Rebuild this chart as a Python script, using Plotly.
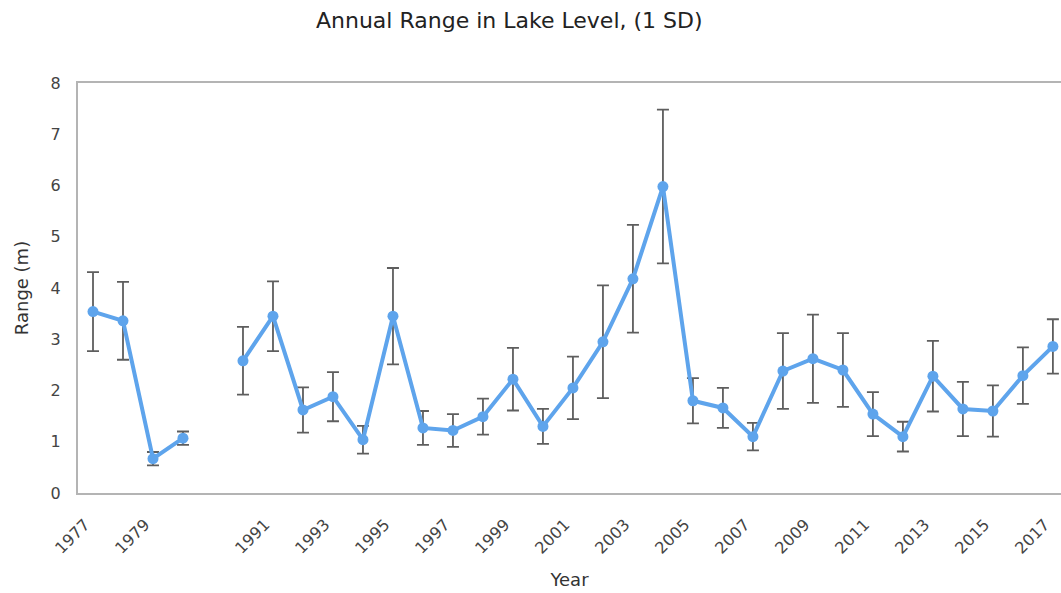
import plotly.graph_objects as go

# Years shown on the category axis; the blank entry separates the two record periods
years = ["1977", "1978", "1979", "1980", " ",
         "1990", "1991", "1992", "1993", "1994", "1995", "1996", "1997", "1998",
         "1999", "2000", "2001", "2002", "2003", "2004", "2005", "2006", "2007",
         "2008", "2009", "2010", "2011", "2012", "2013", "2014", "2015", "2016", "2017"]

# Annual range in lake level (m)
range_m = [3.54, 3.36, 0.67, 1.07, None,
           2.58, 3.45, 1.62, 1.88, 1.04, 3.45, 1.27, 1.22, 1.49,
           2.22, 1.30, 2.05, 2.95, 4.18, 5.98, 1.80, 1.66, 1.10,
           2.38, 2.62, 2.40, 1.54, 1.10, 2.28, 1.64, 1.60, 2.29, 2.86]

# One standard deviation
sd_m = [0.77, 0.76, 0.13, 0.13, None,
        0.66, 0.68, 0.44, 0.48, 0.27, 0.94, 0.33, 0.32, 0.35,
        0.61, 0.34, 0.61, 1.10, 1.05, 1.50, 0.44, 0.39, 0.27,
        0.74, 0.86, 0.72, 0.43, 0.29, 0.69, 0.53, 0.50, 0.55, 0.53]

# Every other year is labelled
tick_years = years[::2]
tick_text = [y.strip() for y in tick_years]

line_blue = "#5ea4ec"
axis_grey = "#b4b4b4"
text_grey = "#444444"
font_family = "DejaVu Sans"

fig = go.Figure(
    go.Scatter(
        x=years,
        y=range_m,
        mode="lines+markers",
        connectgaps=False,
        line=dict(color=line_blue, width=4),
        marker=dict(color=line_blue, size=11),
        error_y=dict(type="data", array=sd_m, visible=True,
                     color="#5e5e5e", thickness=1.8, width=6),
        showlegend=False,
    )
)

fig.update_layout(
    width=1061,
    height=593,
    paper_bgcolor="white",
    plot_bgcolor="white",
    margin=dict(l=78, r=0, t=83, b=100),
    title=dict(text="Annual Range in Lake Level, (1 SD)",
               x=0.48, xanchor="center", y=0.965, yanchor="middle",
               font=dict(family=font_family, size=22, color="#222222")),
    font=dict(family=font_family, color=text_grey, size=16),
)

fig.update_xaxes(
    type="category",
    categoryorder="array",
    categoryarray=years,
    range=[-0.5, 32.27],
    automargin=False,
    tickmode="array",
    tickvals=tick_years,
    ticktext=tick_text,
    tickangle=-45,
    ticklabelshift=-8,
    ticklabelstandoff=14,
    tickfont=dict(size=16, color=text_grey),
    showgrid=False,
    zeroline=False,
    showline=True,
    linecolor=axis_grey,
    linewidth=2,
    mirror=True,
    ticks="",
    title=dict(text="Year", standoff=17,
               font=dict(size=18, color="#333333")),
)

fig.update_yaxes(
    range=[0, 8],
    dtick=1,
    automargin=False,
    showgrid=False,
    zeroline=False,
    showline=True,
    linecolor=axis_grey,
    linewidth=2,
    ticks="",
    ticklabelstandoff=12,
    tickfont=dict(size=16, color=text_grey),
    title=dict(text="Range (m)", standoff=17,
               font=dict(size=18, color="#333333")),
)

fig.write_html("out.html")
